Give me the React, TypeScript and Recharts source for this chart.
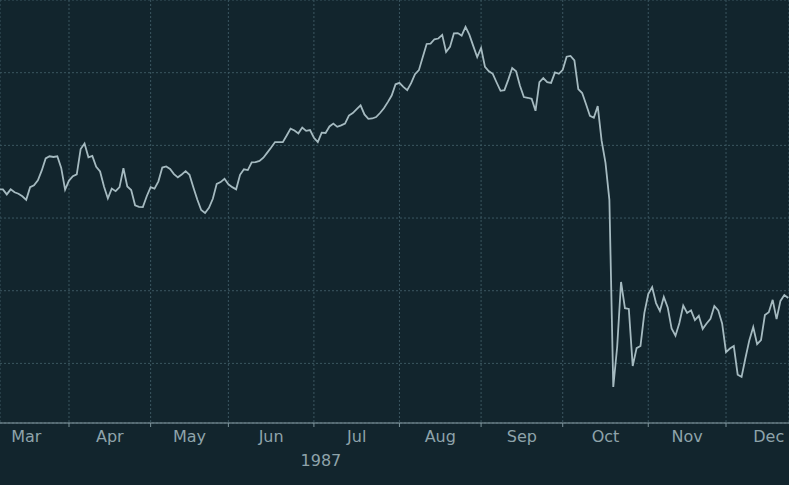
import React from "react";
import { LineChart, Line, XAxis, YAxis, CartesianGrid } from "recharts";

// Daily closes (trading days), early Mar 1987 -> late Dec 1987
const closes: number[] = [
  2279, 2279, 2265, 2279, 2271, 2267, 2260, 2250, 2285, 2290,
  2304, 2331, 2364, 2370, 2368, 2370, 2338, 2278, 2303, 2315,
  2320, 2390, 2405, 2367, 2371, 2341, 2328, 2287, 2254, 2281,
  2274, 2285, 2337, 2287, 2277, 2235, 2231, 2230, 2260, 2285,
  2281, 2301, 2339, 2342, 2335, 2321, 2312, 2320, 2329, 2319,
  2284, 2251, 2222, 2214, 2228, 2253, 2294, 2299, 2308, 2293,
  2285, 2279, 2319, 2334, 2332, 2353, 2354, 2357, 2366, 2380,
  2394, 2409, 2409, 2409, 2427, 2446, 2441, 2433, 2449, 2440,
  2442, 2421, 2409, 2435, 2434, 2452, 2460, 2451, 2455, 2460,
  2482, 2489, 2500, 2510, 2485, 2473, 2474, 2478, 2489, 2502,
  2519, 2537, 2568, 2572, 2561, 2552, 2571, 2596, 2607, 2643,
  2679, 2680, 2692, 2694, 2704, 2657, 2671, 2708, 2709, 2702,
  2726, 2704, 2673, 2643, 2668, 2616, 2604, 2597, 2573, 2550,
  2552, 2581, 2613, 2604, 2564, 2533, 2531, 2528, 2495, 2574,
  2585, 2574, 2572, 2601, 2597, 2608, 2644, 2646, 2634, 2555,
  2544, 2513, 2481, 2476, 2508, 2413, 2352, 2250, 1735, 1845,
  2024, 1952, 1950, 1793, 1842, 1848, 1939, 1991, 2010, 1966,
  1944, 1983, 1954, 1896, 1876, 1911, 1959, 1939, 1946, 1919,
  1931, 1895, 1910, 1923, 1958, 1946, 1910, 1831, 1841, 1848,
  1769, 1763, 1815, 1864, 1900, 1853, 1864, 1933, 1941, 1975,
  1922, 1972, 1988, 1980,
];

// Index of last trading day of each month (vertical grid lines / tick marks)
const monthEndIdx: number[] = [18, 39, 59, 81, 103, 124, 145, 167, 187];
// Month label positions (middle of each month) and names
const monthMidIdx: number[] = [7, 28.5, 49, 70, 92, 113.5, 134.5, 156, 177, 198];
const monthNames: string[] = ["Mar", "Apr", "May", "Jun", "Jul", "Aug", "Sep", "Oct", "Nov", "Dec"];
const yearLabel = "1987";
const yearPos = 82.8;

const yTicks: number[] = [1800, 2000, 2200, 2400, 2600];

const data = closes.map((v, i) => ({ i, v }));

const BG = "#12252d";
const TEXT = "#8ea3aa";

const EmptyTick = () => <g />;

const LabelTick = (props: any) => {
  const { x, y, payload } = props;
  const val = payload.value;
  if (Math.abs(val - yearPos) < 0.01) {
    return (
      <text x={x} y={y + 39} textAnchor="middle" fill={TEXT} fontSize={16} fontFamily="DejaVu Sans">
        {yearLabel}
      </text>
    );
  }
  const k = monthMidIdx.findIndex((m) => Math.abs(m - val) < 0.01);
  return (
    <text x={x} y={y + 15} textAnchor="middle" fill={TEXT} fontSize={16} fontFamily="DejaVu Sans">
      {k >= 0 ? monthNames[k] : ""}
    </text>
  );
};

export default function App() {
  return (
    <div style={{ position: "fixed", left: 0, top: 0, width: 789, height: 485, background: BG }}>
      <LineChart width={789} height={485} data={data} margin={{ top: 0, right: 0, bottom: 0, left: 0 }}>
        <CartesianGrid
          xAxisId={0}
          yAxisId={0}
          stroke="#3b5660"
          strokeDasharray="2 2"
          horizontal={true}
          vertical={true}
        />
        <XAxis
          xAxisId={0}
          dataKey="i"
          type="number"
          domain={[0.255, 203.2]}
          allowDataOverflow
          ticks={monthEndIdx}
          interval={0}
          tick={<EmptyTick />}
          tickSize={4}
          tickLine={{ stroke: "#7d949b" }}
          axisLine={{ stroke: "#8aa0a7" }}
          height={4}
        />
        <XAxis
          xAxisId="labels"
          dataKey="i"
          type="number"
          domain={[0.255, 203.2]}
          allowDataOverflow
          ticks={[...monthMidIdx, yearPos]}
          interval={0}
          tick={<LabelTick />}
          tickSize={0}
          tickMargin={0}
          tickLine={false}
          axisLine={false}
          height={58}
        />
        <YAxis
          yAxisId={0}
          type="number"
          domain={[1636, 2800]}
          allowDataOverflow
          ticks={yTicks}
          interval={0}
          width={0}
          tick={<EmptyTick />}
          tickLine={false}
          axisLine={false}
        />
        <Line
          xAxisId={0}
          yAxisId={0}
          type="linear"
          dataKey="v"
          stroke="#a5bac0"
          strokeWidth={1.8}
          dot={false}
          isAnimationActive={false}
        />
      </LineChart>
    </div>
  );
}
